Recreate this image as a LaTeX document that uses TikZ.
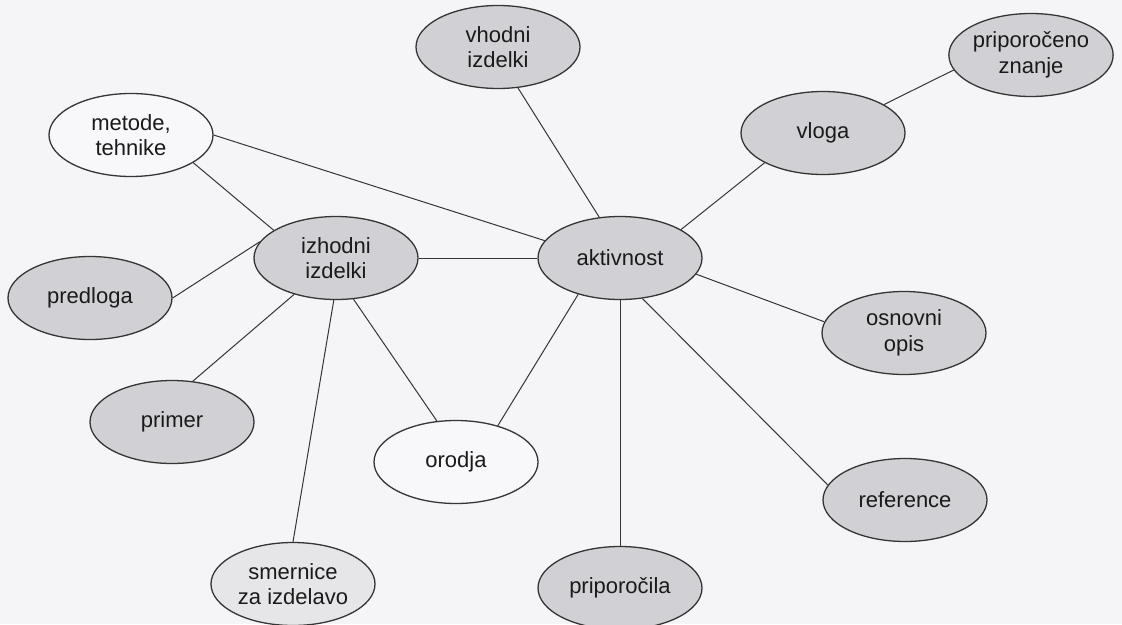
\documentclass[tikz,border=0pt]{standalone}
\usepackage{fontspec}
\setmainfont{Liberation Sans}
\usetikzlibrary{shapes.geometric}
\definecolor{paper}{HTML}{F5F5F7}
\definecolor{bubble}{HTML}{D1D1D5}
\definecolor{bubblelight}{HTML}{E6E6E9}
\definecolor{bubblewhite}{HTML}{F8F8FA}
\definecolor{ink}{HTML}{353535}
\definecolor{txt}{HTML}{1A1A1A}
\tikzset{
  bub/.style={ellipse, draw=ink, line width=1.3pt, inner sep=0pt,
    minimum width=164pt, minimum height=83pt, align=center, text=txt,
    font=\fontsize{22pt}{25.5pt}\selectfont},
  grey/.style={bub, fill=bubble},
  light/.style={bub, fill=bubblelight},
  white/.style={bub, fill=bubblewhite},
  link/.style={draw=ink, line width=1pt}
}
\begin{document}
\begin{tikzpicture}[x=1pt, y=-1pt]
  \fill[paper] (0,0) rectangle (1122,624);
  \useasboundingbox (0,0) rectangle (1122,624);

  % concept bubbles
  \node[white] (metode)  at (131,135) {metode,\\tehnike};
  \node[grey]  (vhodni)  at (498,47)  {vhodni\\izdelki};
  \node[grey]  (znanje)  at (1031,55) {priporočeno\\znanje};
  \node[grey]  (vloga)   at (823,133) {vloga};
  \node[grey]  (izhodni) at (336,258) {izhodni\\izdelki};
  \node[grey]  (akt)     at (620,258) {aktivnost};
  \node[grey]  (predloga) at (90,298) {predloga};
  \node[grey]  (osnovni) at (904,333) {osnovni\\opis};
  \node[grey]  (primer)  at (172,422) {primer};
  \node[white] (orodja)  at (456,462) {orodja};
  \node[grey]  (ref)     at (905,500) {reference};
  \node[light] (smernice) at (293,584) {smernice\\za izdelavo};
  \node[grey]  (pripor)  at (620,588) {priporočila};

  % connectors
  \draw[link] (metode.east) -- (akt.167);
  \draw[link] (metode.-24) -- (izhodni.156);
  \draw[link] (vhodni.-64) -- (akt.117);
  \draw[link] (izhodni.east) -- (akt.west);
  \draw[link] (predloga.east) -- (izhodni.168);
  \draw[link] (izhodni.-139) -- (primer.63);
  \draw[link] (izhodni.-93) -- (smernice.north);
  \draw[link] (izhodni.-67) -- (orodja.115);
  \draw[link] (akt.-139) -- (orodja.41);
  \draw[link] (akt.south) -- (pripor.north);
  \draw[link] (akt.-61) -- (ref.169);
  \draw[link] (akt.-12) -- (osnovni.172);
  \draw[link] (akt.25) -- (vloga.207);
  \draw[link] (vloga.25) -- (znanje.191);
\end{tikzpicture}
\end{document}
